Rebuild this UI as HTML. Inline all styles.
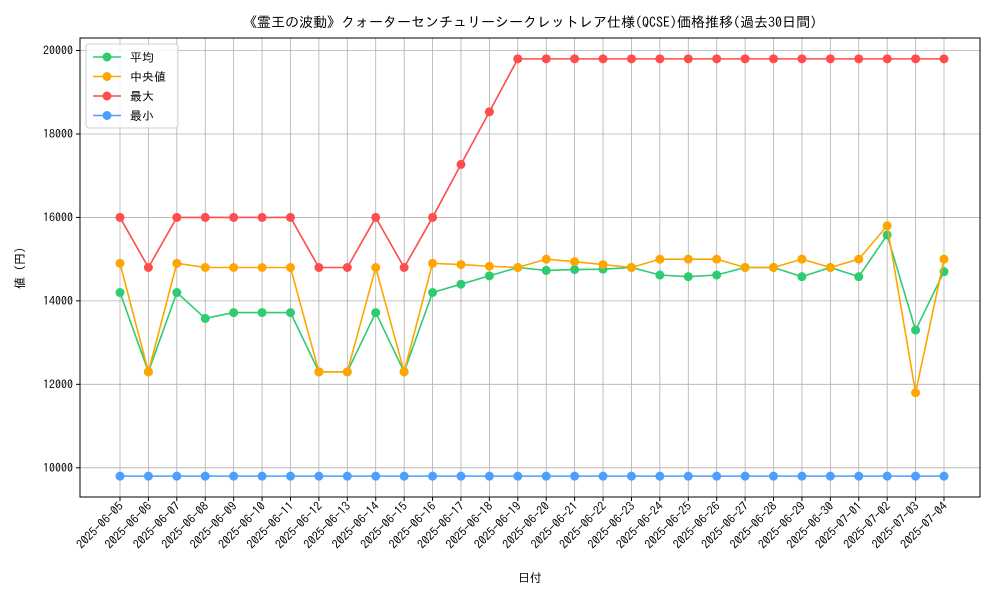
<!DOCTYPE html>
<html><head><meta charset="utf-8"><style>
body{margin:0;background:#fff;font-family:"IPAGothic","Noto Sans CJK JP",sans-serif;}
svg text{font-family:"IPAGothic","Noto Sans CJK JP",monospace;}
</style></head><body>
<svg id="chart" width="1000" height="600" viewBox="0 0 1000 600" xmlns="http://www.w3.org/2000/svg"></svg>
<script>
const dates = ["2025-06-05","2025-06-06","2025-06-07","2025-06-08","2025-06-09","2025-06-10","2025-06-11","2025-06-12","2025-06-13","2025-06-14","2025-06-15","2025-06-16","2025-06-17","2025-06-18","2025-06-19","2025-06-20","2025-06-21","2025-06-22","2025-06-23","2025-06-24","2025-06-25","2025-06-26","2025-06-27","2025-06-28","2025-06-29","2025-06-30","2025-07-01","2025-07-02","2025-07-03","2025-07-04"];
const meanVals = [14200,12300,14200,13580,13720,13720,13720,12300,12300,13720,12300,14200,14400,14600,14800,14730,14750,14760,14800,14620,14580,14620,14800,14800,14580,14800,14580,15580,13300,14700];
const medianVals = [14900,12300,14900,14800,14800,14800,14800,12300,12300,14800,12300,14900,14870,14830,14800,15000,14940,14870,14800,15000,15000,15000,14800,14800,15000,14800,15000,15800,11800,15000];
const maxVals = [16000,14800,16000,16000,16000,16000,16000,14800,14800,16000,14800,16000,17270,18530,19800,19800,19800,19800,19800,19800,19800,19800,19800,19800,19800,19800,19800,19800,19800,19800];
const minVals = [9800,9800,9800,9800,9800,9800,9800,9800,9800,9800,9800,9800,9800,9800,9800,9800,9800,9800,9800,9800,9800,9800,9800,9800,9800,9800,9800,9800,9800,9800];
const yTicks = [10000,12000,14000,16000,18000,20000];

const NS="http://www.w3.org/2000/svg";
const svg=document.getElementById('chart');
const L=80,R=980,T=38,B=497;
const n=dates.length;
const xFirst=120, xLast=944;
const sx=i=>xFirst+i*(xLast-xFirst)/(n-1);
const yMin=9300, yMax=20300;
const sy=v=>B-(v-yMin)/(yMax-yMin)*(B-T);
function mk(tag,attrs,parent){const e=document.createElementNS(NS,tag);for(const k in attrs)e.setAttribute(k,attrs[k]);(parent||svg).appendChild(e);return e;}

const grid=mk('g',{});


dates.forEach((d,i)=>{mk('line',{x1:sx(i),x2:sx(i),y1:T,y2:B,stroke:'#b0b0b0','stroke-width':0.8},grid);});
yTicks.forEach(v=>{mk('line',{x1:L,x2:R,y1:sy(v),y2:sy(v),stroke:'#b0b0b0','stroke-width':0.8},grid);});

const xa=mk('g',{});


dates.forEach((d,i)=>{
  mk('line',{x1:sx(i),x2:sx(i),y1:B,y2:B+4,stroke:'#000'},xa);
  const t=mk('text',{x:sx(i)+4,y:B+10,'font-size':12,'text-anchor':'end',transform:`rotate(-45 ${sx(i)+4} ${B+10})`},xa);
  
  
  t.textContent=d;
});
const ya=mk('g',{});


yTicks.forEach(v=>{
  mk('line',{x1:L-4,x2:L,y1:sy(v),y2:sy(v),stroke:'#000'},ya);
  const t=mk('text',{x:L-7,y:sy(v)+4,'font-size':12,'text-anchor':'end'},ya);
  
  
  t.textContent=v;
});

const series=[
  {name:'平均',vals:meanVals,color:'#2ecc71',id:'mean'},
  {name:'中央値',vals:medianVals,color:'#ffa500',id:'median'},
  {name:'最大',vals:maxVals,color:'#ff4c4c',id:'max'},
  {name:'最小',vals:minVals,color:'#4c9eff',id:'min'}
];
series.forEach(s=>{
  const g=mk('g',{});
  
  
  mk('polyline',{points:s.vals.map((v,i)=>sx(i)+','+sy(v)).join(' '),fill:'none',stroke:s.color,'stroke-width':1.6},g);
  s.vals.forEach((v,i)=>{
    const c=mk('circle',{cx:sx(i),cy:sy(v),r:4.5,fill:s.color},g);
    
    
  });
});

mk('rect',{x:L,y:T,width:R-L,height:B-T,fill:'none',stroke:'#000','stroke-width':1});

const lg=mk('g',{});


mk('rect',{x:86,y:44,width:92,height:84,rx:3,fill:'#fff','fill-opacity':0.85,stroke:'#d0d0d0'},lg);
series.forEach((s,k)=>{
  const y=57+k*19.5;
  const e=mk('g',{},lg);
  
  
  mk('line',{x1:93,x2:121,y1:y,y2:y,stroke:s.color,'stroke-width':1.6},e);
  mk('circle',{cx:107,cy:y,r:4.5,fill:s.color},e);
  const t=mk('text',{x:130,y:y+4.5,'font-size':12},e);
  t.textContent=s.name;
});

const title=mk('text',{x:530,y:27,'font-size':14,'text-anchor':'middle'});


title.textContent='《霊王の波動》クォーターセンチュリーシークレットレア仕様(QCSE)価格推移(過去30日間)';
const xt=mk('text',{x:530,y:582,'font-size':12,'text-anchor':'middle'});


xt.textContent='日付';
const yt=mk('text',{x:24,y:268,'font-size':12,'text-anchor':'middle',transform:'rotate(-90 24 268)'});


yt.textContent='値 (円)';
</script>
</body></html>
